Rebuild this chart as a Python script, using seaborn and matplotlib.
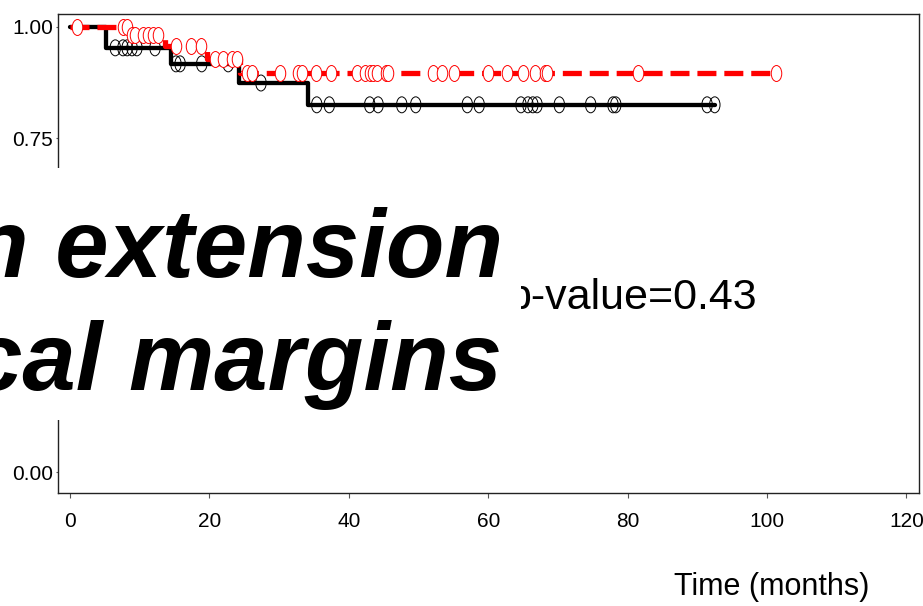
import numpy as np
import pandas as pd
import matplotlib
matplotlib.use("Agg")
import matplotlib.pyplot as plt
from matplotlib.path import Path
from matplotlib.patches import Rectangle
from matplotlib import font_manager
import seaborn as sns

# ---------------- data ----------------
black_event_times = [5.2, 14.5, 24.2, 34.1]
black_event_surv = [0.953, 0.917, 0.874, 0.825]
black_last_time = 92.5
black_censor_times = [6.5, 7.6, 8.2, 8.9, 9.6, 12.2, 15.2, 15.8, 18.9, 22.7,
                      27.4, 35.4, 37.2, 43.0, 44.2, 47.6, 49.6, 57.0, 58.7,
                      64.7, 65.7, 66.4, 67.0, 70.2, 74.7, 77.9, 78.3, 91.4, 92.5]

red_event_times = [8.6, 13.6, 19.7, 24.4]
red_event_surv = [0.982, 0.957, 0.928, 0.897]
red_last_time = 101.3
red_censor_times = [1.0, 7.6, 8.2, 8.9, 9.3, 10.5, 11.2, 11.9, 12.6, 15.2,
                    17.4, 18.8, 20.8, 22.0, 23.2, 23.9, 25.4, 26.1, 30.1, 32.7,
                    33.3, 35.3, 37.4, 41.2, 42.3, 43.0, 43.5, 44.0, 45.3, 45.6,
                    52.1, 53.4, 55.1, 60.0, 62.7, 65.0, 66.7, 68.1, 68.4, 81.5,
                    101.3]

x_ticks = [0, 20, 40, 60, 80, 100, 120]
y_ticks = [0.00, 0.75, 1.00]          # 0.25 / 0.50 are hidden behind the box
y_tick_labels = ["0.00", "0.75", "1.00"]
p_text = "p-value=0.43"
x_label = "Time (months)"
title_lines = ["n extension", "cal margins"]


def step_frame(ev_t, ev_s, last_t):
    t = [0.0] + list(ev_t) + [last_t]
    s = [1.0] + list(ev_s) + [ev_s[-1]]
    return pd.DataFrame({"time": t, "surv": s})


def censor_frame(ev_t, ev_s, cens):
    ev_t = np.asarray(ev_t)
    ev_s = np.asarray(ev_s)
    ys = []
    for c in cens:
        k = np.searchsorted(ev_t, c, side="right")
        ys.append(1.0 if k == 0 else ev_s[k - 1])
    return pd.DataFrame({"time": cens, "surv": ys})


# ---------------- style ----------------
sns.set_theme(style="ticks")
names = {f.name for f in font_manager.fontManager.ttflist}
base_family = ["Liberation Sans", "DejaVu Sans"]
has_narrow = "Liberation Sans Narrow" in names
tick_family = (["Liberation Sans Narrow"] if has_narrow else []) + base_family
tick_size = 16 if has_narrow else 15
plt.rcParams["font.family"] = base_family

W, H = 923, 606
fig = plt.figure(figsize=(W / 100, H / 100), dpi=100)
ax = fig.add_axes([58 / W, 1 - 493 / H, (919 - 58) / W, (493 - 14) / H])

# ellipse-shaped censor marker (taller than wide)
circ = Path.unit_circle()
ell = Path(circ.vertices * np.array([0.66, 1.0]), circ.codes)

black_df = step_frame(black_event_times, black_event_surv, black_last_time)
red_df = step_frame(red_event_times, red_event_surv, red_last_time)
black_c = censor_frame(black_event_times, black_event_surv, black_censor_times)
red_c = censor_frame(red_event_times, red_event_surv, red_censor_times)

sns.lineplot(data=black_df, x="time", y="surv", ax=ax, color="black",
             linewidth=3.1, drawstyle="steps-post", sort=False,
             estimator=None, zorder=3)
sns.scatterplot(data=black_c, x="time", y="surv", ax=ax, marker=ell, s=132,
                facecolors="none", edgecolor="black", linewidth=0.7, zorder=4)
sns.lineplot(data=red_df, x="time", y="surv", ax=ax, color="#ff0000",
             linewidth=3.8, drawstyle="steps-post", sort=False,
             estimator=None, linestyle=(0, (3.6, 1.5)), zorder=5)
sns.scatterplot(data=red_c, x="time", y="surv", ax=ax, marker=ell, s=132,
                facecolors="white", edgecolor="#ff0000", linewidth=0.7, zorder=6)

ax.set_xlim(-1.72, 121.8)
ax.set_ylim(-0.047, 1.029)
ax.set_xticks(x_ticks)
ax.set_xticklabels([str(v) for v in x_ticks], family=tick_family, fontsize=tick_size)
ax.set_yticks(y_ticks)
ax.set_yticklabels(y_tick_labels, family=tick_family, fontsize=tick_size)
ax.tick_params(axis="x", length=3.6, width=0.8, color="#555555", pad=10, labelcolor="black")
ax.tick_params(axis="y", length=1.5, width=0.8, color="#555555", pad=2, labelcolor="black")
for sp in ax.spines.values():
    sp.set_visible(True)
    sp.set_color("#222222")
    sp.set_linewidth(1.0)
ax.set_xlabel(x_label, fontsize=22, color="black")
ax.xaxis.set_label_coords((772 - 58) / 861, -0.165)
ax.set_ylabel("")

ax.text(98.6, 0.366, p_text, ha="right", va="baseline", fontsize=31,
        color="black", zorder=7)

# white overlay box with large bold italic text
fig.patches.append(Rectangle((0, 1 - 420 / H), 521 / W, (420 - 168) / H,
                             transform=fig.transFigure, facecolor="white",
                             edgecolor="none", zorder=10))
fig.text(503 / W, 1 - 277 / H, title_lines[0], ha="right", va="baseline",
         fontsize=69, fontweight="bold", fontstyle="italic", color="black", zorder=11)
fig.text(502 / W, 1 - 390 / H, title_lines[1], ha="right", va="baseline",
         fontsize=69, fontweight="bold", fontstyle="italic", color="black", zorder=11)

fig.savefig("out.png", dpi=100)
